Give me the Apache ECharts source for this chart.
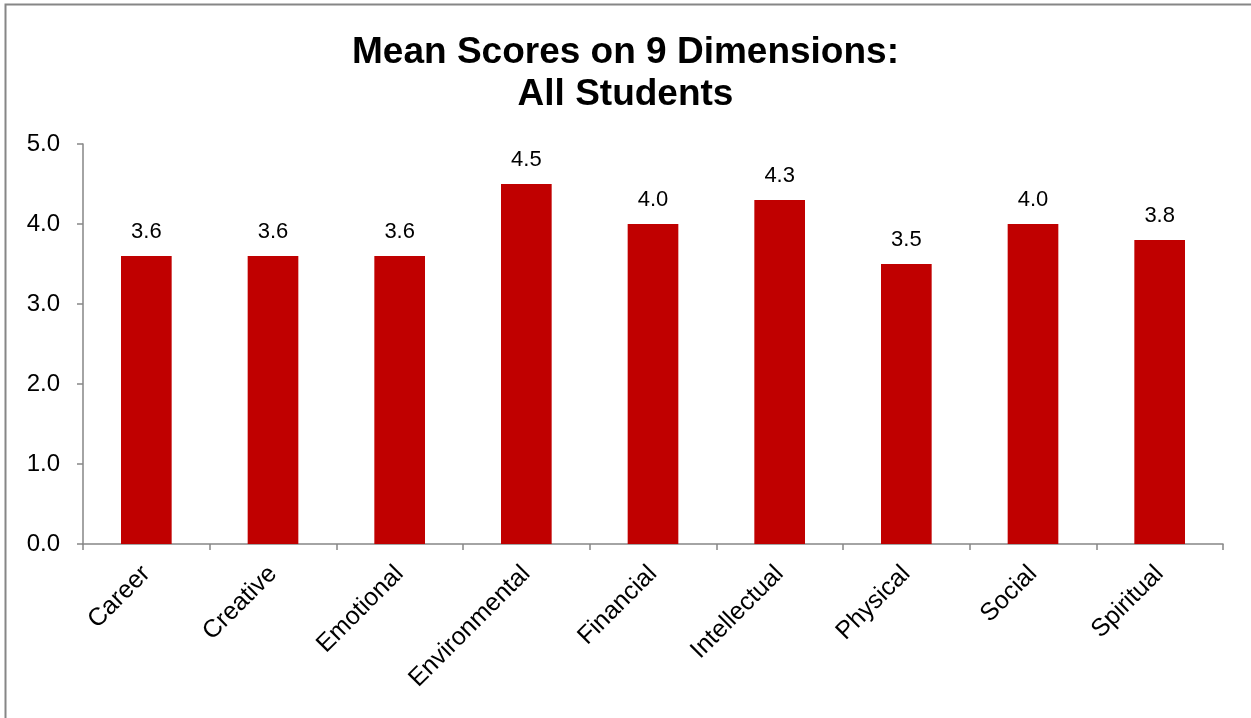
<!DOCTYPE html>
<html><head><meta charset="utf-8">
<script src="https://cdn.jsdelivr.net/npm/echarts@6/dist/echarts.min.js"></script>
<style>html,body{margin:0;padding:0;background:#fff}#c{width:1251px;height:718px}</style>
</head><body><div id="c"></div>
<script>
const categories = ['Career','Creative','Emotional','Environmental','Financial','Intellectual','Physical','Social','Spiritual'];
const values = [3.6, 3.6, 3.6, 4.5, 4.0, 4.3, 3.5, 4.0, 3.8];
const titleText = 'Mean Scores on 9 Dimensions:\nAll Students';
const chart = echarts.init(document.getElementById('c'));
const font = '"Liberation Sans", Arial, sans-serif';
chart.setOption({
  animation: false,
  graphic: [{type:'rect', shape:{x:5.5,y:4.5,width:1300,height:800}, style:{fill:'none', stroke:'#868686', lineWidth:2}}],
  title: {text: titleText, left: 'center', top: 27, textStyle:{fontFamily:font, fontSize:37, fontWeight:'bold', color:'#000', lineHeight:42}},
  grid: {left: 83, right: 28, top: 144, bottom: 174, containLabel: false},
  xAxis: {type:'category', data: categories,
    axisLine:{lineStyle:{color:'#868686', width:1.5}},
    axisTick:{show:true, length:6, alignWithLabel:false, lineStyle:{color:'#868686', width:1.5}},
    axisLabel:{rotate:45, fontFamily:font, fontSize:25, color:'#000', margin:26, interval:0}},
  yAxis: {type:'value', min:0, max:5, interval:1,
    axisLine:{show:true, lineStyle:{color:'#868686', width:1.5}},
    axisTick:{show:true, length:6, lineStyle:{color:'#868686', width:1.5}},
    splitLine:{show:false},
    axisLabel:{fontFamily:font, fontSize:24, color:'#000', margin:23, formatter: v => v.toFixed(1)}},
  series: [{type:'bar', data: values, barWidth:'40%', itemStyle:{color:'#C00000'},
    label:{show:true, position:'top', distance:13, fontFamily:font, fontSize:22, color:'#000', formatter: p => p.value.toFixed(1)}}]
});
</script></body></html>
